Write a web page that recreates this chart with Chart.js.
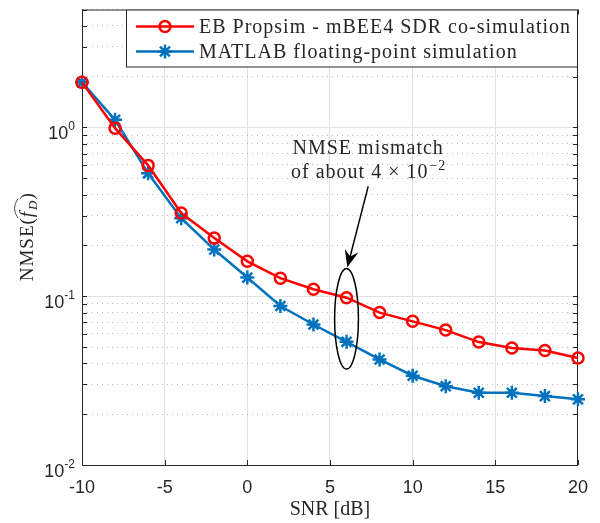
<!DOCTYPE html>
<html>
<head>
<meta charset="utf-8">
<script src="https://cdn.jsdelivr.net/npm/chart.js@4.4.1/dist/chart.umd.min.js"></script>
<style>
  html, body { margin: 0; padding: 0; background: #fff; }
  canvas { display: block; }
</style>
</head>
<body>
<canvas id="nmseCanvas" width="600" height="523"></canvas>
<script>
// SNR points (dB) and the two NMSE curves
const snrDb = [-10, -8, -6, -4, -2, 0, 2, 4, 6, 8, 10, 12, 14, 16, 18, 20];
const propsimNmse = [1.85, 0.99, 0.596, 0.311, 0.221, 0.161, 0.128, 0.110, 0.098, 0.080, 0.071, 0.063, 0.0535, 0.0494, 0.0477, 0.0430];
const matlabNmse = [1.85, 1.11, 0.535, 0.290, 0.189, 0.129, 0.0875, 0.068, 0.0537, 0.0422, 0.0338, 0.0293, 0.0268, 0.0268, 0.0256, 0.0245];
const seriesNames = ['EB Propsim - mBEE4 SDR co-simulation', 'MATLAB floating-point simulation'];

const xTickValues = [-10, -5, 0, 5, 10, 15, 20];
const yTickValues = [0.01, 0.02, 0.03, 0.04, 0.05, 0.06, 0.07, 0.08, 0.09,
    0.1, 0.2, 0.3, 0.4, 0.5, 0.6, 0.7, 0.8, 0.9, 1, 2, 3, 4, 5];
const yDecades = [0.01, 0.1, 1];
const yDecadeExponents = ['-2', '-1', '0'];

const AXIS_COLOR = '#262626';
const SERIF = '"Liberation Serif", "DejaVu Serif", serif';
const SANS = '"Liberation Sans", Arial, sans-serif';

function isDecade(v) {
    const l = Math.log10(v);
    return Math.abs(l - Math.round(l)) < 1e-9;
}

// box + inward tick marks, MATLAB style
const axesBox = {
    id: 'axesBox',
    beforeDatasetsDraw(chart) {
        const { ctx, chartArea: a, scales: { x, y } } = chart;
        const tl = 5;
        ctx.save();
        ctx.strokeStyle = AXIS_COLOR;
        ctx.lineWidth = 1;
        ctx.beginPath();
        x.ticks.forEach(t => {
            const px = Math.round(x.getPixelForValue(t.value)) + 0.5;
            ctx.moveTo(px, a.bottom); ctx.lineTo(px, a.bottom - tl);
            ctx.moveTo(px, a.top); ctx.lineTo(px, a.top + tl);
        });
        y.ticks.forEach(t => {
            const py = Math.round(y.getPixelForValue(t.value)) + 0.5;
            ctx.moveTo(a.left, py); ctx.lineTo(a.left + tl, py);
            ctx.moveTo(a.right, py); ctx.lineTo(a.right - tl, py);
        });
        ctx.stroke();
        ctx.strokeRect(a.left + 0.5, a.top + 0.5, a.right - a.left - 1, a.bottom - a.top);
        ctx.restore();
    },
    afterDraw(chart) {
        const { ctx, chartArea: a, scales: { y } } = chart;
        ctx.save();
        ctx.fillStyle = AXIS_COLOR;
        ctx.textAlign = 'right';
        ctx.textBaseline = 'alphabetic';
        yDecades.forEach((v, i) => {
            const py = y.getPixelForValue(v);
            const right = a.left - 7;
            ctx.font = '12px ' + SANS;
            const ew = ctx.measureText(yDecadeExponents[i]).width;
            ctx.fillText(yDecadeExponents[i], right, py + 3);
            ctx.font = '18px ' + SANS;
            ctx.fillText('10', right - ew, py + 12);
        });

        // y label: NMSE( widehat f_D )
        ctx.translate(27, (a.top + a.bottom) / 2);
        ctx.rotate(-Math.PI / 2);
        ctx.textAlign = 'left';
        ctx.letterSpacing = '1px';
        const big = '19px ' + SERIF, it = 'italic 19px ' + SERIF, sub = 'italic 13px ' + SERIF;
        const parts = [
            { t: 'NMSE(', f: big, dy: 0 },
            { t: 'f', f: it, dy: 0 },
            { t: 'D', f: sub, dy: 4 },
            { t: ')', f: big, dy: 0 }
        ];
        let total = 0;
        parts.forEach(p => { ctx.font = p.f; p.w = ctx.measureText(p.t).width; total += p.w; });
        let cx = -total / 2;
        const base = 6;
        let hatStart = 0, hatEnd = 0;
        parts.forEach((p, i) => {
            ctx.font = p.f;
            if (i === 1) hatStart = cx - 1;
            ctx.fillText(p.t, cx, base + p.dy);
            cx += p.w + (i === 1 ? 1 : 0);
            if (i === 2) hatEnd = cx + 1;
        });
        ctx.strokeStyle = AXIS_COLOR;
        ctx.lineWidth = 0.8;
        ctx.beginPath();
        ctx.moveTo(hatStart, base - 15);
        ctx.quadraticCurveTo((hatStart + hatEnd) / 2, base - 22, hatEnd, base - 15);
        ctx.stroke();
        ctx.restore();
    }
};

// legend in the upper right corner of the axes
const cornerLegend = {
    id: 'cornerLegend',
    afterDatasetsDraw(chart) {
        const { ctx, chartArea: a } = chart;
        const w = 452, h = 57;
        const left = a.right - w, top = a.top;
        ctx.save();
        ctx.fillStyle = '#fff';
        ctx.fillRect(left, top, w, h);
        ctx.strokeStyle = AXIS_COLOR;
        ctx.lineWidth = 1;
        ctx.strokeRect(left + 0.5, top + 0.5, w - 1, h);
        chart.data.datasets.forEach((ds, i) => {
            const ry = top + 17 + i * 25;
            ctx.strokeStyle = ds.borderColor;
            ctx.lineWidth = ds.borderWidth;
            ctx.beginPath();
            ctx.moveTo(left + 10, ry); ctx.lineTo(left + 68, ry);
            ctx.stroke();
            ctx.lineWidth = ds.pointBorderWidth;
            ctx.fillStyle = 'rgba(0,0,0,0)';
            Chart.helpers.drawPoint(ctx, { pointStyle: ds.pointStyle, radius: ds.pointRadius, rotation: 0, borderWidth: ds.pointBorderWidth }, left + 39, ry);
            ctx.fillStyle = AXIS_COLOR;
            ctx.font = '20px ' + SERIF;
            ctx.letterSpacing = '1px';
            ctx.textBaseline = 'middle';
            ctx.textAlign = 'left';
            ctx.fillText(ds.label, left + 73, ry + 1);
            ctx.letterSpacing = '0px';
        });
        ctx.restore();
    }
};

// "NMSE mismatch" note, arrow and ellipse at SNR = 6 dB
const mismatchNote = {
    id: 'mismatchNote',
    afterDatasetsDraw(chart) {
        const { ctx, scales: { x, y } } = chart;
        ctx.save();
        ctx.strokeStyle = '#000';
        ctx.fillStyle = '#000';
        ctx.lineWidth = 1.5;

        const ex = x.getPixelForValue(6);
        const eTop = y.getPixelForValue(0.146), eBot = y.getPixelForValue(0.037);
        const rx = x.getPixelForValue(6.72) - ex;
        ctx.beginPath();
        ctx.ellipse(ex, (eTop + eBot) / 2, rx, (eBot - eTop) / 2, 0, 0, 2 * Math.PI);
        ctx.stroke();

        const tx = x.getPixelForValue(7.31), ty = y.getPixelForValue(0.448);
        const hx = x.getPixelForValue(6.05), hy = y.getPixelForValue(0.1485);
        const len = Math.hypot(hx - tx, hy - ty);
        const ux = (hx - tx) / len, uy = (hy - ty) / len;
        const nx = -uy, ny = ux;
        ctx.beginPath();
        ctx.moveTo(tx, ty);
        ctx.lineTo(hx - ux * 10, hy - uy * 10);
        ctx.stroke();
        ctx.beginPath();
        ctx.moveTo(hx, hy);
        ctx.lineTo(hx - ux * 17 + nx * 7, hy - uy * 17 + ny * 7);
        ctx.lineTo(hx - ux * 11, hy - uy * 11);
        ctx.lineTo(hx - ux * 17 - nx * 7, hy - uy * 17 - ny * 7);
        ctx.closePath();
        ctx.fill();

        ctx.fillStyle = AXIS_COLOR;
        ctx.textBaseline = 'alphabetic';
        ctx.textAlign = 'left';
        ctx.letterSpacing = '1px';
        ctx.font = '20px ' + SERIF;
        const l1 = 'NMSE mismatch';
        const w1 = ctx.measureText(l1).width;
        ctx.fillText(l1, tx - w1 / 2, ty - 32);
        const l2 = 'of about 4 \u00d7 10';
        const w2 = ctx.measureText(l2).width;
        ctx.font = '14px ' + SERIF;
        const sup = '\u22122';
        const w3 = ctx.measureText(sup).width;
        const start = tx - (w2 + w3) / 2;
        ctx.font = '20px ' + SERIF;
        ctx.fillText(l2, start, ty - 8);
        ctx.font = '14px ' + SERIF;
        ctx.fillText(sup, start + w2 + 1, ty - 16);
        ctx.letterSpacing = '0px';
        ctx.restore();
    }
};

const ctx = document.getElementById('nmseCanvas').getContext('2d');
new Chart(ctx, {
    type: 'line',
    data: {
        datasets: [
            {
                label: seriesNames[0],
                data: snrDb.map((s, i) => ({ x: s, y: propsimNmse[i] })),
                borderColor: '#FF0000',
                backgroundColor: 'rgba(0,0,0,0)',
                borderWidth: 2.5,
                pointStyle: 'circle',
                pointRadius: 5.5,
                pointBorderWidth: 2.5,
                pointBorderColor: '#FF0000',
                pointBackgroundColor: 'rgba(0,0,0,0)',
                tension: 0,
                clip: false
            },
            {
                label: seriesNames[1],
                data: snrDb.map((s, i) => ({ x: s, y: matlabNmse[i] })),
                borderColor: '#0072BD',
                backgroundColor: 'rgba(0,0,0,0)',
                borderWidth: 2.5,
                pointStyle: 'star',
                pointRadius: 7,
                pointBorderWidth: 2.5,
                pointBorderColor: '#0072BD',
                pointBackgroundColor: 'rgba(0,0,0,0)',
                tension: 0,
                clip: false
            }
        ]
    },
    options: {
        responsive: false,
        animation: false,
        devicePixelRatio: 1,
        layout: { padding: { left: 0, top: 7, right: 19, bottom: 0 } },
        plugins: { legend: { display: false }, tooltip: { enabled: false } },
        scales: {
            x: {
                type: 'linear',
                min: -10,
                max: 20,
                afterBuildTicks: s => { s.ticks = xTickValues.map(v => ({ value: v })); },
                afterFit: s => { s.height = 58; },
                ticks: { color: AXIS_COLOR, font: { family: SANS, size: 18 }, padding: 12, maxRotation: 0, autoSkip: false },
                grid: { color: '#e2e2e2', lineWidth: 1, drawTicks: false },
                border: { display: false },
                title: {
                    display: true,
                    text: 'SNR [dB]',
                    color: AXIS_COLOR,
                    font: { family: SERIF, size: 20 },
                    padding: { top: 0, bottom: 1 }
                }
            },
            y: {
                type: 'logarithmic',
                min: 0.01,
                max: 5,
                afterBuildTicks: s => { s.ticks = yTickValues.map(v => ({ value: v })); },
                afterFit: s => { s.width = 82; },
                ticks: { display: false, autoSkip: false },
                grid: {
                    color: c => (c.tick && isDecade(c.tick.value)) ? '#e2e2e2' : 'rgba(38,38,38,0.3)',
                    lineWidth: 1,
                    drawTicks: false
                },
                border: {
                    display: false,
                    dash: c => (c.tick && isDecade(c.tick.value)) ? [] : [1, 4]
                }
            }
        }
    },
    plugins: [axesBox, cornerLegend, mismatchNote]
});
</script>
</body>
</html>
